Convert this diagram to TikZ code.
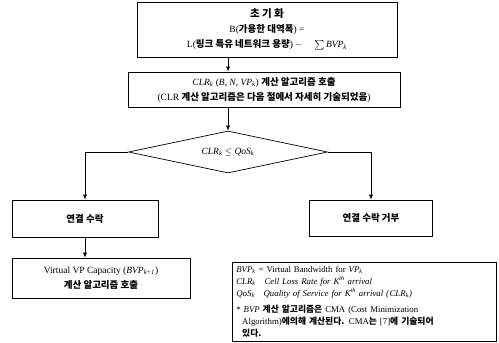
\documentclass[tikz,border=0pt]{standalone}
\usepackage{amsmath,amssymb}
\usepackage{fontspec}
\setmainfont{Liberation Serif}
\newfontfamily\krf{Noto Sans CJK KR}
\usepackage{tikz}
\usetikzlibrary{arrows.meta,shapes.geometric}
\newcommand{\kr}[1]{{\krf\bfseries #1}}
\newcommand{\vsub}[2]{\textit{#1}\textsubscript{\textit{#2}}}
\tikzset{
  flowbox/.style={draw,line width=0.7pt,align=center,inner sep=2pt,font=\fontsize{9.5}{15}\selectfont},
  flowarr/.style={-{Latex[length=5pt,width=4pt]},line width=0.7pt}
}
\begin{document}
\begin{tikzpicture}[x=1pt,y=-1pt]
  \useasboundingbox (0,0) rectangle (499,343);
  % start block
  \node[flowbox,minimum width=260,minimum height=55] (init) at (267,29.5)
    {{\fontsize{10.5}{15}\selectfont\kr{초 기 화}}\\B(\kr{가용한 대역폭}) =\\L(\kr{링크 특유 네트워크 용량}) $-$ \quad $\sum$\,\vsub{BVP}{k}};
  \node[flowbox,minimum width=272,minimum height=35] (clrcall) at (264,89.5)
    {\vsub{CLR}{k} (\textit{B, N, }\vsub{VP}{k}) \kr{계산 알고리즘 호출}\\(CLR \kr{계산 알고리즘은 다음 절에서 자세히 기술되었음})};
  \node[draw,line width=0.7pt,diamond,aspect=4.7,minimum width=199,minimum height=42,inner sep=0pt,
    font=\fontsize{9.5}{11}\selectfont] (cond) at (228,152) {\vsub{CLR}{k} $\le$ \vsub{QoS}{k}};
  % branches
  \node[flowbox,minimum width=146,minimum height=37] (accept) at (85,218.5) {\kr{연결 수락}};
  \node[flowbox,minimum width=123,minimum height=36] (reject) at (371,218) {\kr{연결 수락 거부}};
  \node[flowbox,minimum width=178,minimum height=40] (vpcap) at (101,278)
    {Virtual VP Capacity (\vsub{BVP}{k+1})\\\kr{계산 알고리즘 호출}};
  % legend
  \node[draw,line width=0.7pt,text width=256,minimum height=78,anchor=north west,inner sep=4pt,
    align=left,font=\fontsize{8.8}{12}\selectfont] (legend) at (232,262)
    {\vsub{BVP}{k} = Virtual Bandwidth for \vsub{VP}{k}\\
     \vsub{CLR}{k}\quad \textit{Cell Loss Rate for K\textsuperscript{th} arrival}\\
     \vsub{QoS}{k}\quad \textit{Quality of Service for K\textsuperscript{th} arrival (}\vsub{CLR}{k}\textit{)}\\[4pt]
     * \textit{BVP} \kr{계산 알고리즘은} CMA (Cost Minimization\\
     \ \ Algorithm)\kr{에의해 계산된다.} CMA\kr{는} [7]\kr{에 기술되어}\\
     \ \ \kr{있다.}};
  % connectors
  \draw[flowarr] (init.south -| cond.north) -- (clrcall.north -| cond.north);
  \draw[flowarr] (clrcall.south -| cond.north) -- (cond.north);
  \draw[flowarr] (cond.west) -- (accept.north |- cond.west) -- (accept.north);
  \draw[flowarr] (cond.east) -- (reject.north |- cond.east) -- (reject.north);
  \draw[flowarr] (accept.south) -- (accept.south |- vpcap.north);
\end{tikzpicture}
\end{document}
